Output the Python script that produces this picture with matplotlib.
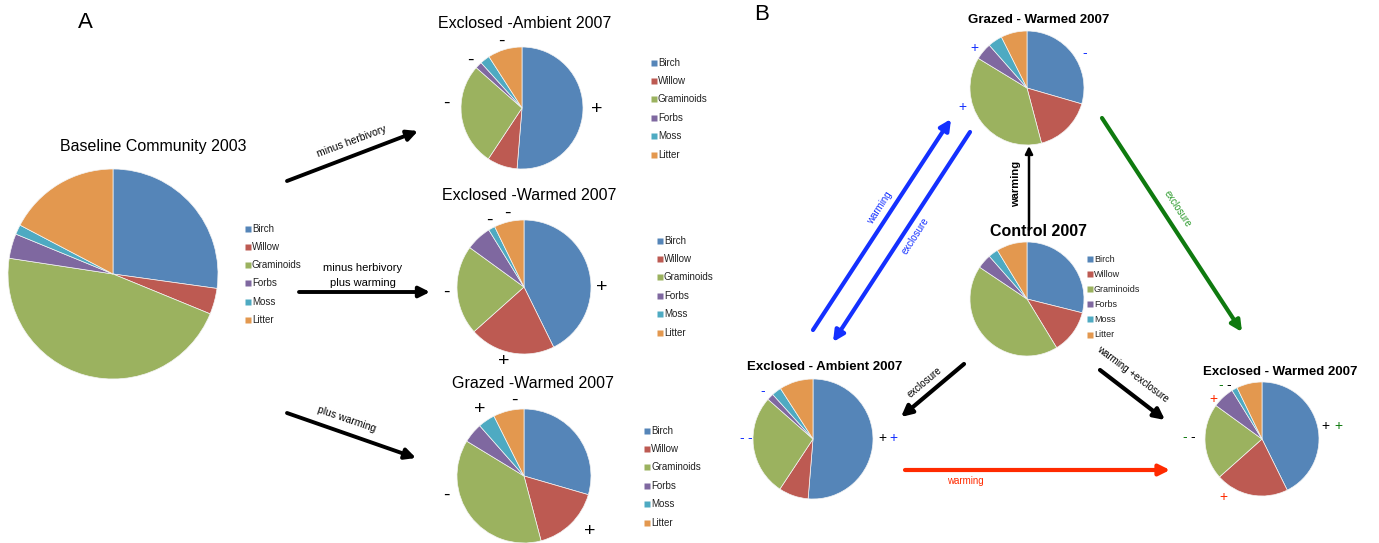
import numpy as np
import matplotlib.pyplot as plt

plt.rcParams['font.family'] = ['Liberation Sans', 'DejaVu Sans']

# community composition (fraction of cover), clockwise from 12 o'clock
species = ['Birch', 'Willow', 'Graminoids', 'Forbs', 'Moss', 'Litter']
colors = ['#5585b8', '#bd5a52', '#9bb25f', '#7f68a0', '#4eaac2', '#e3984f']

baseline_2003 = [0.272, 0.040, 0.462, 0.038, 0.015, 0.173]
exclosed_ambient_2007 = [0.513, 0.080, 0.272, 0.018, 0.026, 0.091]
exclosed_warmed_2007 = [0.427, 0.207, 0.216, 0.062, 0.016, 0.072]
grazed_warmed_2007 = [0.295, 0.164, 0.378, 0.048, 0.041, 0.074]
control_2007 = [0.289, 0.124, 0.431, 0.041, 0.028, 0.087]

W, H = 1379, 543
fig = plt.figure(figsize=(W / 100, H / 100), dpi=100)

# overlay in pixel units for arrows, titles and signs
ov = fig.add_axes([0, 0, 1, 1])
ov.set_xlim(0, W)
ov.set_ylim(H, 0)
ov.axis('off')
ov.set_zorder(5)


def draw_pie(cx, cy, r, fracs):
    ax = fig.add_axes([(cx - r) / W, 1 - (cy + r) / H, 2 * r / W, 2 * r / H])
    ax.pie(fracs, colors=colors, startangle=90, counterclock=False,
           wedgeprops=dict(edgecolor='#f4f4f4', linewidth=0.5))
    ax.set_xlim(-1, 1)
    ax.set_ylim(-1, 1)
    return ax


def draw_key(x, y, step, size=7, msize=4.5):
    for i, (name, c) in enumerate(zip(species, colors)):
        ov.plot(x, y + i * step, marker='s', ms=msize, color=c, mec='none')
        ov.text(x + 4, y + i * step, name, fontsize=size, va='center',
                ha='left', color='#222222')


def arrow(tail, head, color='black', lw=2.8, ms=16):
    ov.annotate('', xy=head, xytext=tail,
                arrowprops=dict(arrowstyle='-|>', color=color, lw=lw,
                                mutation_scale=ms, shrinkA=0, shrinkB=0))


def sign(x, y, s, color='black', size=14):
    ov.text(x, y, s, fontsize=size, color=color, ha='center', va='center')


# ---------------- panel A ----------------
ov.text(85, 22, 'A', fontsize=16, ha='center', va='center')

draw_pie(113, 274, 105, baseline_2003)
ov.text(153, 146, 'Baseline Community 2003', fontsize=11.5, ha='center', va='center')
draw_key(248, 228.5, 18.3)

draw_pie(522, 108, 61, exclosed_ambient_2007)
ov.text(525, 23, 'Exclosed -Ambient 2007', fontsize=11.5, ha='center', va='center')
draw_key(654, 62.5, 18.4)

draw_pie(524, 287, 67, exclosed_warmed_2007)
ov.text(529, 195, 'Exclosed -Warmed 2007', fontsize=11.5, ha='center', va='center')
draw_key(660, 240.5, 18.4)

draw_pie(524, 476, 67, grazed_warmed_2007)
ov.text(533, 383, 'Grazed -Warmed 2007', fontsize=11.5, ha='center', va='center')
draw_key(647, 430.5, 18.4)

arrow((287, 181), (418, 131))
ov.text(352, 141, 'minus herbivory', fontsize=7.5, rotation=20.5,
        ha='center', va='center')
arrow((299, 292), (430, 292))
ov.text(363, 268, 'minus herbivory', fontsize=8, ha='center', va='center')
ov.text(363, 283, 'plus warming', fontsize=8, ha='center', va='center')
arrow((287, 413), (416, 458))
ov.text(347, 419, 'plus warming', fontsize=7.5, rotation=-19,
        ha='center', va='center')

# direction of change relative to baseline
for x, y, s in [(501, 41, '-'), (470, 60, '-'), (446, 103, '-'), (597, 110, '+'),
                (489, 220, '-'), (507, 213, '-'), (446, 292, '-'), (602, 288, '+'),
                (504, 361, '+'),
                (514, 400, '-'), (480, 410, '+'), (446, 495, '-'), (590, 532, '+')]:
    sign(x, y, s)

# ---------------- panel B ----------------
ov.text(762, 15, 'B', fontsize=16, ha='center', va='center')

draw_pie(1027, 88, 57, grazed_warmed_2007)
ov.text(1039, 20, 'Grazed - Warmed 2007', fontsize=9.5, fontweight='bold',
        ha='center', va='center')

draw_pie(1027, 299, 57, control_2007)
ov.text(1038, 232, 'Control 2007', fontsize=11.5, fontweight='bold',
        ha='center', va='center')
draw_key(1090, 259, 15.1, size=6.5, msize=3.8)

draw_pie(813, 439, 60, exclosed_ambient_2007)
ov.text(825, 367, 'Exclosed - Ambient 2007', fontsize=9.5, fontweight='bold',
        ha='center', va='center')

draw_pie(1262, 439, 57, exclosed_warmed_2007)
ov.text(1280, 372, 'Exclosed - Warmed 2007', fontsize=9.5, fontweight='bold',
        ha='center', va='center')

blue = '#1430ff'
green = '#0f7a0f'
red = '#ff2a00'

arrow((813, 330), (951, 119), color=blue, lw=3)
ov.text(880, 208, 'warming', fontsize=7, rotation=57, color=blue,
        ha='center', va='center')
arrow((970, 132), (833, 342), color=blue, lw=3)
ov.text(915, 236, 'exclosure', fontsize=7, rotation=57, color=blue,
        ha='center', va='center')

arrow((1029, 230), (1029, 146), lw=1.8, ms=11)
ov.text(1016, 184, 'warming', fontsize=8, rotation=90, fontweight='bold',
        ha='center', va='center')

arrow((1102, 118), (1242, 332), color=green, lw=3)
ov.text(1177, 209, 'exclosure', fontsize=7, rotation=-57, color='#2a9a2a',
        ha='center', va='center')

arrow((964, 364), (901, 417), lw=3)
ov.text(925, 382, 'exclosure', fontsize=7, rotation=40, ha='center', va='center')

arrow((1100, 370), (1165, 420), lw=3)
ov.text(1133, 374, 'warming +exclosure', fontsize=7, rotation=-37,
        ha='center', va='center')

arrow((905, 470), (1170, 470), color=red, lw=3)
ov.text(965, 481, 'warming', fontsize=7, color=red, ha='center', va='center')

for x, y, s, c in [(974, 48, '+', blue), (1085, 53, '-', blue), (962, 107, '+', blue),
                   (763, 391, '-', blue), (742, 438, '-', blue), (750, 438, '-', blue),
                   (882, 438, '+', 'black'), (893, 438, '+', blue),
                   (1221, 385, '-', green), (1229, 385, '-', 'black'),
                   (1213, 399, '+', red),
                   (1185, 437, '-', green), (1193, 437, '-', 'black'),
                   (1325, 426, '+', 'black'), (1338, 426, '+', green),
                   (1223, 497, '+', red)]:
    sign(x, y, s, color=c, size=10)

fig.savefig('out.png', dpi=100)
